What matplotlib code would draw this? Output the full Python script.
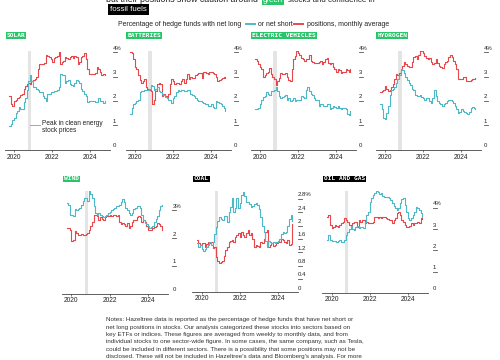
import matplotlib
matplotlib.use("Agg")
import matplotlib.pyplot as plt
from matplotlib.lines import Line2D
from matplotlib.transforms import offset_copy
import numpy as np

plt.rcParams['font.family'] = ['Liberation Sans', 'DejaVu Sans']

RED = '#e8474c'
BLUE = '#4db8c6'
GREEN = '#2bc46b'
BAND = '#e4e4e4'
INK = '#222222'

# monthly averages, Oct 2019 onwards (percent of hedge funds)
months = 2019.75 + np.arange(61) / 12
peak_start, peak_end = 2020.72, 2020.88

solar_long = [0.95, 1.05, 1.2, 1.3, 1.5, 1.6,
              1.75, 1.65, 1.65, 1.95, 2.1, 2.45,
              2.8, 3.05, 2.8, 2.55, 2.55, 2.5,
              2.45, 2.35, 2.35, 2.2, 2.1, 2.0,
              2.3, 2.3, 2.35, 2.35, 2.4, 2.4,
              2.45, 2.55, 3.1, 3.05, 3.05, 2.75,
              2.8, 2.85, 2.7, 2.65, 2.6, 2.75,
              2.85, 2.8, 2.75, 2.5, 2.4, 2.3,
              2.2, 1.95, 2.0, 2.0, 2.0, 2.0,
              1.95, 1.95, 2.1, 2.0, 2.0, 1.9, 2.0]
solar_short = [2.2, 1.85, 1.8, 2.0, 2.05, 2.1,
               2.15, 2.25, 2.3, 2.5, 2.6, 2.7,
               2.75, 2.7, 2.8, 2.85, 2.9, 3.0,
               3.3, 3.5, 3.5, 3.5, 3.55, 3.9,
               3.85, 3.8, 3.7, 3.6, 3.75, 3.8,
               3.85, 4.0, 3.5, 3.6, 3.65, 3.8,
               3.75, 3.7, 3.8, 3.85, 3.75, 3.85,
               3.8, 3.5, 3.6, 3.8, 3.85, 3.95,
               3.7, 3.3, 3.1, 3.1, 3.1, 3.1,
               3.15, 3.4, 3.3, 3.2, 3.05, 3.1, 3.05]

batteries_long = [1.45, 1.7, 1.85, 1.9, 2.0, 2.05,
                  2.35, 2.4, 2.4, 2.45, 2.45, 2.45,
                  2.5, 2.65, 2.6, 2.45, 2.5, 2.55,
                  2.4, 2.35, 2.3, 2.25, 2.15, 2.1,
                  2.05, 2.05, 1.9, 2.1, 2.2, 2.35,
                  2.45, 2.4, 2.45, 2.45, 2.4, 2.4,
                  2.45, 2.45, 2.3, 2.25, 2.2, 2.1,
                  2.05, 2.0, 2.0, 1.95, 1.9, 1.85,
                  1.85, 1.8, 1.8, 1.85, 1.75, 1.7,
                  2.0, 1.95, 1.9, 1.85, 1.8, 1.7, 1.6]
batteries_short = [4.0, 3.95, 3.7, 3.4, 3.3, 3.05,
                   2.85, 2.75, 2.8, 2.9, 2.55, 2.5,
                   2.45, 2.4, 1.85, 2.05, 2.4, 2.7,
                   2.75, 2.7, 2.2, 2.3, 2.2, 2.1,
                   2.3, 2.7, 2.9, 2.8, 2.7, 2.75,
                   2.75, 2.7, 2.8, 2.9, 2.75, 2.9,
                   3.1, 2.9, 3.0, 2.95, 2.95, 3.05,
                   3.1, 3.15, 3.15, 2.95, 3.2, 3.2,
                   3.15, 3.1, 3.2, 3.2, 3.15, 3.1,
                   3.0, 2.8, 2.85, 2.9, 2.95, 3.0, 2.95]

ev_long = [1.65, 1.65, 1.7, 1.85, 2.05, 2.15,
           2.2, 2.35, 2.3, 2.25, 2.4, 2.4,
           2.45, 2.55, 2.4, 2.2, 2.1, 2.15,
           2.2, 2.25, 2.05, 2.1, 2.0, 2.05,
           2.1, 2.0, 2.05, 2.05, 2.05, 2.2,
           2.15, 2.1, 2.45, 2.55, 2.4, 2.3,
           2.25, 2.1, 2.05, 2.05, 1.8, 1.85,
           1.85, 1.8, 1.8, 1.85, 1.85, 1.65,
           1.7, 1.8, 1.75, 1.7, 1.8, 1.7,
           1.65, 1.7, 1.7, 1.65, 1.45, 1.4, 1.6]
ev_short = [3.7, 3.65, 3.5, 3.4, 3.3, 3.0,
            3.05, 3.15, 3.2, 3.35, 3.1, 3.0,
            2.9, 2.65, 2.8, 2.95, 3.15, 3.1,
            3.1, 3.15, 3.0, 2.85, 2.8, 3.3,
            3.7, 3.85, 4.05, 3.95, 3.9, 3.75,
            3.7, 3.65, 3.7, 3.7, 3.9, 3.65,
            3.6, 3.55, 3.55, 3.55, 3.6, 3.65,
            3.5, 3.6, 3.7, 3.75, 3.55, 3.5,
            3.55, 3.4, 3.3, 3.2, 3.3, 3.25,
            3.15, 3.2, 3.2, 3.3, 3.25, 3.2, 3.3]

hydrogen_long = [1.85, 1.65, 1.3, 1.25, 1.5, 1.8,
                 2.25, 2.45, 2.5, 2.55, 2.75, 2.9,
                 3.05, 3.3, 3.25, 3.15, 3.0, 2.85,
                 2.75, 2.65, 2.5, 2.45, 2.25, 2.2,
                 2.2, 2.25, 2.15, 2.1, 2.05, 2.1,
                 2.1, 2.0, 1.9, 2.1, 2.45, 2.2,
                 2.0, 1.9, 1.85, 1.8, 1.85, 1.9,
                 2.0, 2.05, 2.05, 2.0, 1.9, 1.8,
                 1.65, 1.5, 1.55, 1.65, 1.6, 1.55,
                 1.5, 1.45, 1.55, 1.7, 1.75, 1.7, 1.65]
hydrogen_short = [2.35, 2.4, 2.45, 2.6, 2.5, 2.4,
                  2.45, 2.55, 2.7, 2.9, 3.1, 3.05,
                  3.15, 3.3, 3.45, 3.6, 3.5, 3.45,
                  3.4, 3.4, 3.6, 3.8, 3.85, 3.7,
                  3.9, 4.1, 4.05, 3.95, 3.85, 3.75,
                  3.7, 3.75, 3.6, 3.5, 3.55, 3.7,
                  3.55, 3.45, 3.4, 3.35, 3.5, 3.6,
                  3.65, 3.8, 3.9, 3.8, 3.65, 3.5,
                  3.3, 2.9, 2.9, 2.9, 3.0, 3.0,
                  2.8, 2.8, 2.8, 2.85, 2.9, 2.9, 2.95]

wind_long = [3.28, 3.2, 2.85, 2.85, 2.8, 3.05,
             3.0, 3.05, 3.1, 3.2, 3.35, 3.45,
             3.45, 3.35, 3.7, 3.6, 3.45, 3.15,
             2.9, 2.85, 2.9, 2.85, 2.8, 2.75,
             2.8, 2.85, 2.9, 2.95, 3.0, 3.05,
             3.1, 3.15, 3.15, 3.2, 3.3, 3.4,
             3.3, 3.1, 3.0, 2.9, 2.85, 2.9,
             3.05, 3.1, 3.15, 3.15, 3.1, 2.85,
             2.65, 2.55, 2.5, 2.45, 2.35, 2.4,
             2.45, 2.6, 2.7, 2.8, 3.0, 3.15, 3.2]
wind_short = [2.35, 2.35, 2.3, 1.9, 1.95, 2.25,
              2.2, 2.1, 2.1, 2.15, 2.1, 2.1,
              2.15, 2.2, 2.3, 2.45, 2.6, 2.85,
              2.85, 2.8, 2.65, 2.75, 2.7, 2.65,
              2.75, 2.8, 2.8, 2.85, 2.8, 2.85,
              2.85, 2.8, 2.85, 2.6, 2.5, 2.55,
              2.5, 2.45, 2.55, 2.35, 2.45, 2.6,
              2.65, 2.65, 2.75, 2.8, 2.75, 2.6,
              2.65, 2.6, 2.45, 2.3, 2.3, 2.3,
              2.35, 2.4, 2.45, 2.55, 2.5, 2.45, 2.3]

coal_long = [1.47, 1.37, 1.42, 1.3, 1.25, 1.3,
             1.37, 1.42, 1.5, 1.42, 1.5, 1.75,
             1.95, 2.15, 2.25, 2.2, 2.17, 2.3,
             2.3, 2.12, 2.4, 2.55, 2.82, 2.42,
             2.52, 2.82, 2.52, 2.67, 2.92, 3.0,
             2.9, 2.7, 2.72, 2.65, 2.55, 2.6,
             2.65, 2.67, 2.62, 2.5, 2.25, 2.0,
             1.8, 1.55, 1.37, 1.55, 1.52, 1.47,
             1.52, 1.47, 1.52, 1.55, 1.6, 1.75,
             1.82, 1.78, 1.8, 2.0, 2.2, 2.32, 2.15]
coal_short = [1.57, 1.47, 1.42, 1.47, 1.47, 1.37,
              1.45, 1.52, 1.47, 1.52, 1.32, 1.35,
              1.05, 0.95, 0.88, 0.9, 0.95, 1.1,
              1.27, 1.37, 1.5, 1.55, 1.57, 1.52,
              1.67, 1.72, 1.77, 1.67, 1.82, 1.72,
              1.67, 1.77, 1.87, 1.72, 1.77, 1.6,
              1.37, 1.42, 1.4, 1.37, 1.52, 1.47,
              1.6, 1.82, 1.87, 1.37, 1.42, 1.47,
              1.4, 1.42, 1.47, 1.55, 1.52, 1.6,
              1.57, 1.5, 1.47, 1.57, 1.42, 1.45, 2.05]

oil_long = [2.48, 2.72, 2.48, 2.45, 2.44, 2.42,
            2.4, 2.42, 2.48, 2.4, 2.37, 2.5,
            2.72, 2.85, 2.98, 3.15, 3.0, 2.95,
            3.1, 3.15, 3.03, 3.08, 3.1, 3.03,
            3.34, 3.66, 3.81, 4.28, 4.44, 4.6,
            4.67, 4.78, 4.75, 4.65, 4.67, 4.55,
            4.52, 4.52, 4.48, 4.44, 4.36, 4.22,
            4.1, 4.0, 3.9, 3.97, 4.2, 4.4,
            4.44, 4.12, 3.81, 3.5, 3.42, 3.5,
            3.66, 3.8, 4.05, 3.97, 3.9, 3.75, 3.58]
oil_short = [3.58, 3.66, 3.19, 3.03, 3.1, 3.19,
             3.12, 3.1, 3.19, 3.27, 3.34, 3.5,
             3.42, 3.35, 3.19, 3.1, 3.27, 3.34,
             3.34, 3.1, 3.42, 3.34, 3.4, 3.42,
             3.27, 3.34, 3.27, 3.3, 3.3, 3.34,
             3.55, 3.55, 3.5, 3.58, 3.5, 3.55,
             3.58, 3.5, 3.45, 3.42, 3.42, 3.27,
             3.42, 3.5, 3.73, 3.81, 3.66, 3.42,
             3.34, 3.19, 3.1, 3.1, 3.12, 3.27,
             3.19, 3.27, 3.3, 3.34, 3.27, 3.5, 3.45]

year_ticks = [2020, 2022, 2024]
pct_ticks = [0, 1, 2, 3, 4]
pct_labels = ['0', '1', '2', '3', '4%']
wind_ticks = [0, 1, 2, 3]
wind_labels = ['0', '1', '2', '3%']
coal_ticks = [0, 0.4, 0.8, 1.2, 1.6, 2.0, 2.4, 2.8]
coal_labels = ['0', '0.4', '0.8', '1.2', '1.6', '2', '2.4', '2.8%']

notes = [
    "Notes: Hazeltree data is reported as the percentage of hedge funds that have net short or",
    "net long positions in stocks. Our analysis categorized these stocks into sectors based on",
    "key ETFs or indices. These figures are averaged from weekly to monthly data, and from",
    "individual stocks to one sector-wide figure. In some cases, the same company, such as Tesla,",
    "could be included in different sectors. There is a possibility that some positions may not be",
    "disclosed. These will not be included in Hazeltree's data and Bloomberg's analysis. For more",
]

W, H = 500, 360
fig = plt.figure(figsize=(5, 3.6), dpi=100)


def fx(px):
    return px / W


def fy(py):
    return 1 - py / H


# name, long, short, ticks, labels, x of 2020 (px), baseline (px), px per unit, ymax, label dx, tag colour, tag y
panels = [
    ("SOLAR", solar_long, solar_short, pct_ticks, pct_labels, 14, 149.5, 24.33, 4.05, 2.7, GREEN, 35.5),
    ("BATTERIES", batteries_long, batteries_short, pct_ticks, pct_labels, 134.75, 149.5, 24.33, 4.05, 2.7, GREEN, 35.5),
    ("ELECTRIC VEHICLES", ev_long, ev_short, pct_ticks, pct_labels, 259.75, 149.5, 24.33, 4.05, 2.7, GREEN, 35.5),
    ("HYDROGEN", hydrogen_long, hydrogen_short, pct_ticks, pct_labels, 384.75, 149.5, 24.33, 4.05, 2.7, GREEN, 35.5),
    ("WIND", wind_long, wind_short, wind_ticks, wind_labels, 71.4, 293.5, 27.67, 3.72, 4.7, GREEN, 179),
    ("COAL", coal_long, coal_short, coal_ticks, coal_labels, 201.5, 292.3, 33.33, 3.03, 0.0, 'black', 179),
    ("OIL AND GAS", oil_long, oil_short, pct_ticks, pct_labels, 331.5, 293, 21.33, 4.78, 4.7, 'black', 179),
]

AX_W = 105.4
axes = {}
for name, lng, sht, ticks, labels, x20, base, upx, ymax, ldx, tagc, tagy in panels:
    left = x20 - 9.06
    h = ymax * upx
    ax = fig.add_axes([fx(left), fy(base), AX_W / W, h / H])
    ax.set_xlim(2019.525, 2025.05)
    ax.set_ylim(0, ymax)
    ax.axvspan(peak_start, peak_end, color=BAND, lw=0, zorder=0)
    ax.step(months, sht, where='post', color=RED, lw=0.8, zorder=2)
    ax.step(months, lng, where='post', color=BLUE, lw=0.8, zorder=3)

    for s in ['top', 'left', 'right']:
        ax.spines[s].set_visible(False)
    ax.spines['bottom'].set_color('#444444')
    ax.spines['bottom'].set_linewidth(0.6)
    ax.set_yticks([])
    ax.set_xticks(year_ticks)
    ax.set_xticklabels([str(y) for y in year_ticks])
    ax.tick_params(axis='x', length=1.5, width=0.5, color='#444444',
                   pad=1.6 if base < 200 else 0.8, labelsize=4.8, labelcolor=INK)

    # right-hand value labels sitting on short dashes
    trans = ax.get_yaxis_transform()
    lab_trans = offset_copy(trans, x=0, y=1.5, units='dots')
    x0 = 1 + ldx / AX_W
    for v, lab in zip(ticks, labels):
        ax.text(x0, v, lab, transform=lab_trans, ha='left', va='bottom',
                fontsize=4.3, color=INK)
        if v > 0:
            ax.plot([x0, x0 + 4 / AX_W], [v, v], transform=trans,
                    color='#555555', lw=0.6, clip_on=False)

    fig.text(fx(left + 1.5), fy(tagy), name, family='DejaVu Sans Mono',
             weight='bold', fontsize=4.5, color='white', ha='left', va='center',
             bbox=dict(boxstyle='square,pad=0.12', fc=tagc, ec='none'))
    axes[name] = ax

# annotation for the grey band
sol = axes["SOLAR"]
sol.plot([2020.86, 2021.36], [1.02, 1.02], color='#999999', lw=0.6)
sol.text(2021.47, 0.93, "Peak in clean energy\nstock prices", fontsize=4.7,
         color=INK, ha='left', va='center', linespacing=1.05)

# title (its first line is cut at the top edge, as in the source crop)
fig.text(fx(106), fy(1.8), "but their positions show caution around",
         fontsize=6.3, color=INK, ha='left', va='baseline')
fig.text(fx(273), fy(1.8), "green", fontsize=5.7, color='white', ha='center',
         va='baseline', bbox=dict(boxstyle='square,pad=0.1', fc=GREEN, ec='none'))
fig.text(fx(288), fy(1.8), "stocks and confidence in",
         fontsize=5.7, color=INK, ha='left', va='baseline')
fig.text(fx(110), fy(9.5), "fossil fuels", fontsize=5.7, color='white',
         ha='left', va='center',
         bbox=dict(boxstyle='square,pad=0.3', fc='black', ec='none'))

# legend
fig.text(fx(118), fy(24), "Percentage of hedge funds with net long",
         fontsize=4.95, color=INK, ha='left', va='center')
fig.add_artist(Line2D([fx(246), fx(255)], [fy(24), fy(24)], color=BLUE, lw=1.4))
fig.text(fx(258), fy(24), "or net short", fontsize=4.95, color=INK,
         ha='left', va='center')
fig.add_artist(Line2D([fx(294), fx(303)], [fy(24), fy(24)], color=RED, lw=1.4))
fig.text(fx(307), fy(24), "positions, monthly average", fontsize=4.95,
         color=INK, ha='left', va='center')

# notes
for i, line in enumerate(notes):
    fig.text(fx(106), fy(320 + 7.33 * i), line, fontsize=4.5, color='#333333',
             ha='left', va='center')

fig.savefig('out.png', dpi=100)
